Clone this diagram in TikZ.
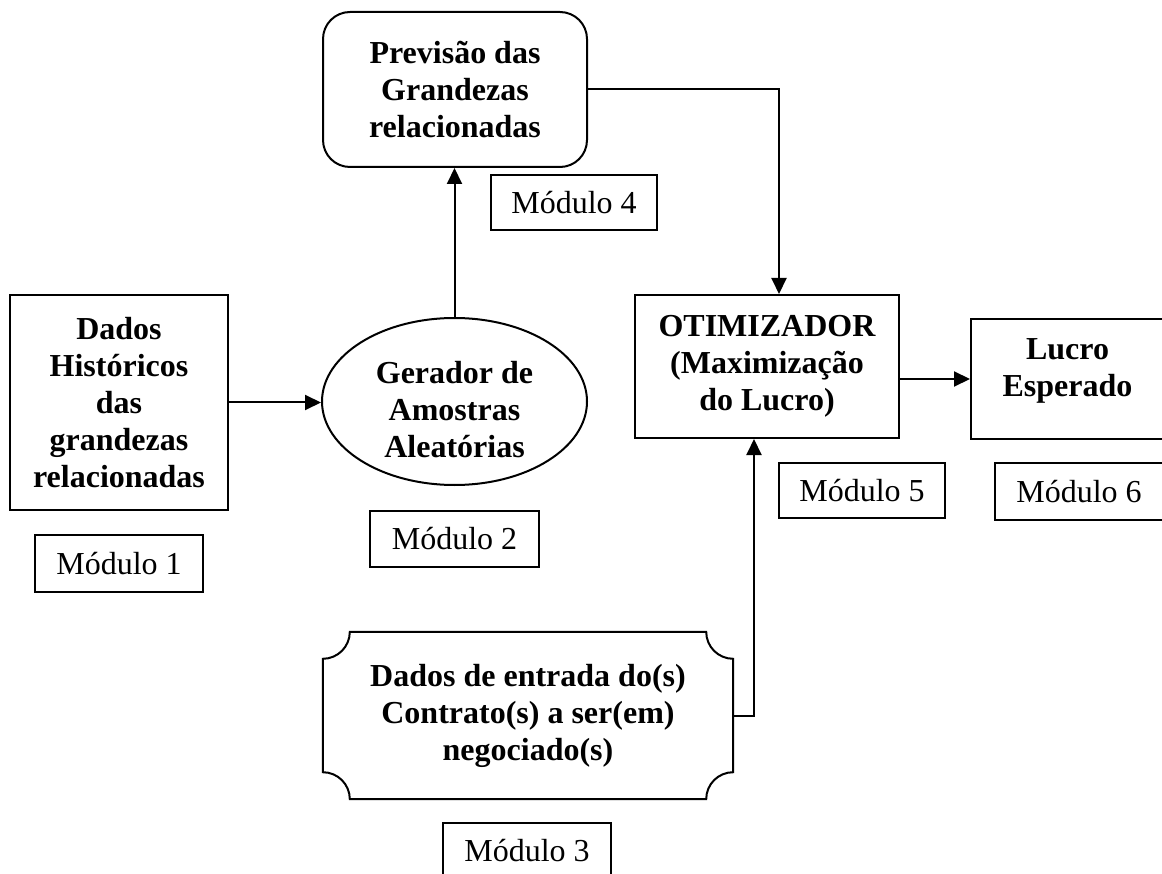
\documentclass[tikz,border=0pt]{standalone}
\usepackage{fontspec}
\setmainfont{Liberation Serif}
\usetikzlibrary{arrows.meta,calc,shapes.geometric}
\begin{document}
\begin{tikzpicture}[x=1pt,y=-1pt,
  btxt/.style={align=center,font=\bfseries\fontsize{32}{37}\selectfont,inner sep=0pt},
  box/.style={btxt,draw,line width=2pt},
  modbox/.style={draw,line width=1.6pt,font=\fontsize{32}{37}\selectfont,inner sep=0pt},
  arr/.style={line width=2pt,-{Triangle[length=16pt,width=15pt]}},
  conn/.style={line width=2pt}]
\useasboundingbox (0,0) rectangle (1162,874);

% Module 1
\node[box,minimum width=218,minimum height=215] (dados) at (119,402.5)
  {Dados\\Históricos\\das\\grandezas\\relacionadas};
\node[modbox,minimum width=168,minimum height=57] (m1) at (119,563.5) {Módulo 1};

% Module 2
\node[draw,ellipse,line width=2pt,inner sep=0pt,minimum width=265,minimum height=167,
  label={[btxt,yshift=-8pt]center:Gerador de\\Amostras\\Aleatórias}] (ger) at (454.5,401.5) {};
\node[modbox,minimum width=169,minimum height=56] (m2) at (454.5,539) {Módulo 2};

% Module 4
\node[box,rounded corners=27pt,minimum width=264,minimum height=155] (prev) at (455,89.5)
  {Previsão das\\Grandezas\\relacionadas};
\node[modbox,minimum width=166,minimum height=55] (m4) at (574,202.5) {Módulo 4};

% Module 5
\node[box,minimum width=264,minimum height=143] (otim) at (767,366.5)
  {OTIMIZADOR\\(Maximização\\do Lucro)};
\node[modbox,minimum width=166,minimum height=55] (m5) at (862,490.5) {Módulo 5};

% Module 6
\node[draw,line width=2pt,inner sep=0pt,minimum width=193,minimum height=120,
  label={[btxt,yshift=8pt]center:Lucro\\Esperado}] (lucro) at (1067.5,379) {};
\node[modbox,minimum width=168,minimum height=57] (m6) at (1079,491.5) {Módulo 6};

% Module 3
\node[btxt,minimum width=410,minimum height=167] (pl) at (528,715.5)
  {Dados de entrada do(s)\\Contrato(s) a ser(em)\\negociado(s)};
\draw[conn] ($(pl.north west)+(27,0)$) -- ($(pl.north east)+(-27,0)$)
  arc[start angle=180,end angle=90,radius=27]
  -- ($(pl.south east)+(0,-27)$)
  arc[start angle=-90,end angle=-180,radius=27]
  -- ($(pl.south west)+(27,0)$)
  arc[start angle=0,end angle=-90,radius=27]
  -- ($(pl.north west)+(0,27)$)
  arc[start angle=90,end angle=0,radius=27]
  -- cycle;
\node[modbox,minimum width=168,minimum height=56] (m3) at (527,851) {Módulo 3};

% connectors
\draw[arr] (dados.east) -- (dados.east -| ger.west);
\draw[arr] (ger.north) -- (ger.north |- prev.south);
\draw[arr] (prev.east) -| ([xshift=12pt]otim.north);
\draw[arr] (otim.east |- lucro.west) -- (lucro.west);
\draw[arr] (pl.east) -| ([xshift=-13pt]otim.south);
\end{tikzpicture}
\end{document}
